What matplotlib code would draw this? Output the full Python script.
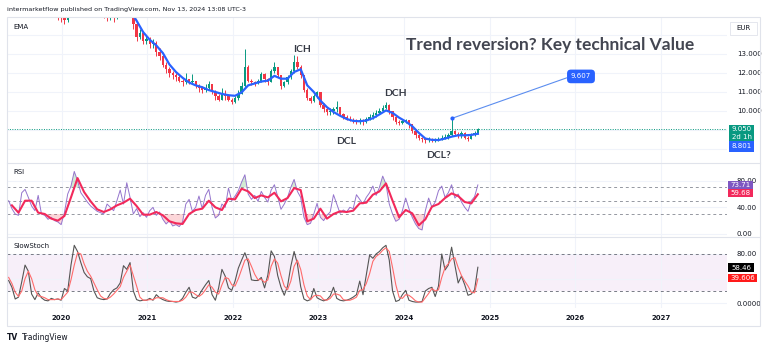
import numpy as np
import pandas as pd
import matplotlib
matplotlib.use("Agg")
import matplotlib.pyplot as plt
import matplotlib.dates as mdates
from matplotlib.lines import Line2D
from matplotlib.patches import Rectangle

# ---- data (2-week bars) ----
first_open = 15.6
closes = [15.5, 15.3, 15.4, 15.8, 16.1, 16.3, 16.0, 15.7, 15.6, 15.7,
          15.5, 15.4, 15.3, 15.2, 15.1, 15.0, 14.9, 14.8, 15.2, 15.9,
          16.6, 17.2, 17.0, 16.7, 16.4, 16.0, 15.7, 15.5, 15.3, 15.1,
          15.0, 15.1, 14.95, 15.2, 15.4, 15.6, 15.8, 15.6, 14.6, 13.9,
          14.1, 13.7, 13.8, 13.5, 13.6, 13.1, 12.9, 12.4, 12.2, 12.0,
          11.9, 11.8, 11.6, 11.5, 11.7, 11.5, 11.6, 11.3, 11.2, 11.1,
          11.2, 11.4, 11.0, 10.8, 10.6, 10.9, 10.8, 10.6, 10.45, 10.7,
          10.9, 11.3, 12.3, 11.6, 11.5, 11.45, 11.6, 11.95, 11.7, 11.5,
          12.1, 12.3, 11.9, 11.3, 11.5, 11.8, 12.1, 12.6, 12.3, 11.9,
          11.1, 10.7, 10.5, 10.8, 11.0, 10.3, 10.1, 9.95, 10.0, 10.1,
          10.2, 9.85, 9.7, 9.6, 9.55, 9.5, 9.45, 9.55, 9.4, 9.6,
          9.7, 9.8, 9.9, 10.0, 10.15, 10.3, 10.0, 9.7, 9.4, 9.35,
          9.45, 9.55, 9.3, 8.95, 8.75, 8.6, 8.5, 8.45, 8.55, 8.45,
          8.5, 8.55, 8.6, 8.65, 8.75, 8.95, 8.8, 8.7, 8.85, 8.6,
          8.55, 8.75, 8.85, 9.05]
highs = [15.8, 15.6, 15.7, 16.0, 16.3, 16.5, 16.4, 16.1, 15.9, 15.9,
         15.8, 15.7, 15.6, 15.5, 15.4, 15.3, 15.2, 15.1, 15.4, 16.1,
         16.9, 17.5, 17.6, 17.1, 16.8, 16.5, 16.1, 15.8, 15.6, 15.4,
         15.3, 15.3, 15.2, 15.4, 15.6, 15.8, 16.0, 16.0, 15.6, 14.7,
         14.3, 14.2, 14.0, 13.9, 13.8, 13.7, 13.3, 13.0, 12.6, 12.3,
         12.1, 12.0, 11.9, 11.7, 12.0, 11.7, 11.95, 11.6, 11.4, 11.3,
         11.4, 11.6, 11.4, 11.1, 10.9, 11.2, 11.1, 10.9, 10.7, 10.8,
         11.1, 11.5, 13.25, 12.4, 11.7, 11.6, 11.7, 12.05, 12.0, 11.75,
         12.2, 12.6, 12.3, 11.9, 11.6, 11.9, 12.2, 12.95, 12.9, 12.4,
         11.9, 11.2, 10.8, 10.9, 11.05, 11.0, 10.4, 10.2, 10.15, 10.2,
         10.5, 10.2, 9.9, 9.8, 9.75, 9.65, 9.6, 9.65, 9.6, 9.7,
         9.85, 9.95, 10.05, 10.15, 10.3, 10.45, 10.35, 10.0, 9.75, 9.5,
         9.55, 9.6, 9.55, 9.3, 9.0, 8.8, 8.65, 8.6, 8.65, 8.6,
         8.6, 8.65, 8.72, 8.8, 8.85, 9.607, 9.0, 8.9, 8.95, 8.9,
         8.7, 8.85, 8.95, 9.1]
lows = [15.3, 15.1, 15.2, 15.3, 15.7, 15.9, 15.8, 15.5, 15.4, 15.4,
        15.3, 15.2, 15.1, 15.1, 15.05, 14.8, 14.7, 14.6, 14.7, 15.0,
        15.8, 16.5, 16.8, 16.4, 16.2, 15.8, 15.5, 15.3, 15.1, 14.9,
        14.75, 14.8, 14.7, 14.85, 15.1, 15.3, 15.5, 15.3, 14.3, 13.7,
        13.8, 13.5, 13.5, 13.3, 13.3, 12.9, 12.7, 12.3, 12.0, 11.8,
        11.7, 11.6, 11.5, 11.3, 11.4, 11.4, 11.4, 11.2, 11.0, 10.95,
        11.0, 11.1, 10.9, 10.6, 10.5, 10.6, 10.6, 10.5, 10.35, 10.4,
        10.6, 10.9, 11.2, 11.5, 11.35, 11.3, 11.4, 11.55, 11.55, 11.35,
        11.5, 12.0, 11.8, 11.15, 11.25, 11.4, 11.7, 12.0, 12.2, 11.75,
        11.0, 10.6, 10.4, 10.45, 10.7, 10.2, 9.95, 9.8, 9.8, 9.85,
        9.95, 9.75, 9.6, 9.5, 9.45, 9.35, 9.3, 9.3, 9.25, 9.35,
        9.5, 9.6, 9.7, 9.85, 9.95, 10.1, 9.85, 9.55, 9.3, 9.25,
        9.3, 9.35, 9.1, 8.85, 8.6, 8.45, 8.35, 8.32, 8.35, 8.35,
        8.38, 8.4, 8.45, 8.5, 8.55, 8.7, 8.7, 8.6, 8.6, 8.5,
        8.4, 8.5, 8.7, 8.8]

# EMA, every second bar from bar 37
ema_vals = [15.3, 14.75, 14.15, 13.75, 13.45, 13.05, 12.45, 12.05, 11.75, 11.5,
            11.35, 11.25, 11.1, 11.0, 10.9, 10.83, 10.8, 10.98, 11.35, 11.45,
            11.55, 11.6, 11.85, 11.7, 11.7, 12.05, 12.2, 11.35, 11.0, 10.55,
            10.2, 9.95, 9.75, 9.58, 9.48, 9.46, 9.5, 9.62, 9.82, 10.03,
            9.9, 9.65, 9.45, 9.2, 8.85, 8.55, 8.48, 8.47, 8.55, 8.65,
            8.72, 8.72, 8.74, 8.801]

rsi = [50, 38, 30, 28, 62, 67, 55, 42, 35, 58,
       30, 28, 22, 25, 20, 18, 14, 32, 60, 72,
       94, 80, 62, 55, 48, 42, 38, 34, 32, 30,
       45, 40, 35, 50, 66, 45, 77, 55, 30, 38,
       26, 32, 25, 35, 40, 28, 33, 22, 15, 20,
       12, 14, 11, 18, 45, 52, 34, 40, 57, 38,
       58, 67, 40, 24, 28, 45, 40, 69, 50, 57,
       65, 78, 89, 60, 52, 58, 49, 64, 55, 48,
       66, 74, 56, 37, 45, 55, 70, 82, 64, 55,
       25, 14, 16, 30, 46, 25, 20, 28, 33, 59,
       45, 31, 36, 33, 40, 38, 59, 52, 45, 55,
       62, 72, 58, 70, 87, 75, 45, 30, 19, 22,
       35, 54, 38, 25, 15, 8, 6, 35, 54, 40,
       48, 65, 72, 55, 62, 74, 54, 60, 48, 40,
       34, 50, 56, 73.71]
# RSI moving average, every second bar from bar 1
rsi_ma = [43, 32, 50, 50, 32, 30, 23, 20, 27, 55,
          84, 63, 49, 37, 33, 37, 43, 47, 53, 42,
          29, 29, 33, 28, 19, 16, 15, 30, 36, 38,
          50, 40, 36, 53, 52, 68, 64, 54, 58, 55,
          62, 49, 54, 69, 66, 19, 23, 38, 23, 30,
          34, 33, 35, 46, 47, 59, 64, 76, 50, 25,
          36, 31, 13, 22, 41, 45, 54, 61, 57, 48,
          46, 59.68]

stoch_k = [37, 26, 7, 10, 35, 62, 52, 15, 6, 17,
           9, 5, 4, 8, 6, 7, 5, 24, 20, 62,
           94, 84, 66, 50, 43, 40, 20, 9, 7, 6,
           7, 16, 22, 25, 33, 61, 55, 66, 20, 6,
           4, 5, 5, 8, 5, 14, 9, 6, 4, 3,
           3, 2, 3, 8, 18, 26, 10, 8, 13, 22,
           30, 37, 14, 5, 25, 55, 44, 25, 21, 36,
           57, 70, 82, 67, 38, 37, 37, 42, 25, 46,
           85, 76, 45, 26, 13, 28, 60, 84, 64, 27,
           7, 4, 6, 24, 9, 6, 4, 6, 12, 26,
           8, 5, 4, 5, 7, 10, 14, 36, 14, 46,
           78, 73, 80, 84, 90, 94, 70, 20, 3, 5,
           14, 21, 5, 3, 2, 2, 3, 20, 24, 26,
           11, 28, 80, 54, 62, 91, 62, 33, 44, 30,
           13, 15, 22, 58.46]
stoch_d = [42, 32, 18, 11, 20, 40, 52, 40, 22, 12,
           11, 9, 6, 6, 6, 7, 6, 12, 18, 38,
           62, 82, 80, 64, 52, 44, 33, 22, 12, 8,
           7, 10, 15, 21, 27, 42, 52, 62, 45, 28,
           10, 5, 5, 6, 6, 9, 9, 9, 6, 4,
           3, 3, 3, 5, 10, 18, 18, 14, 11, 15,
           22, 30, 26, 18, 15, 30, 42, 40, 30, 28,
           40, 55, 70, 72, 60, 47, 38, 39, 34, 38,
           60, 72, 65, 45, 28, 22, 36, 60, 70, 55,
           30, 12, 6, 12, 13, 12, 6, 5, 8, 15,
           15, 13, 6, 5, 5, 7, 10, 21, 22, 32,
           48, 68, 76, 80, 86, 90, 84, 58, 30, 10,
           8, 14, 13, 9, 4, 2, 2, 9, 16, 24,
           20, 22, 42, 58, 64, 72, 74, 58, 45, 36,
           28, 18, 17, 39.606]

year_labels = ["2020", "2021", "2022", "2023", "2024", "2025", "2026", "2027"]
price_ticks = [8, 9, 10, 11, 12, 13, 14]
price_labels = ["", "", "10.000", "11.000", "12.000", "13.000", ""]

# ---- layout ----
W, H = 768, 349
UP, DOWN = "#089981", "#f23645"
GRID = "#f0f3fa"
TXT = "#131722"

dates = pd.date_range("2019-05-20", periods=len(closes), freq="14D")
x = mdates.date2num(dates)
o = np.array([first_open] + closes[:-1])
c = np.array(closes)
hi = np.array(highs)
lo = np.array(lows)
years = mdates.date2num(pd.to_datetime([y + "-01-01" for y in year_labels]))
xmin = mdates.date2num(pd.Timestamp("2019-05-13"))
xmax = mdates.date2num(pd.Timestamp("2027-10-10"))

fig = plt.figure(figsize=(W / 100, H / 100), dpi=100)
fig.patch.set_facecolor("white")


def box(x0, y0, x1, y1):
    return [x0 / W, 1 - y1 / H, (x1 - x0) / W, (y1 - y0) / H]


def tag(x0, y0, x1, y1, lines, fc, tc="white", ec="none"):
    # price-scale label box, in pixel coords from the top-left corner
    fig.add_artist(Rectangle((x0 / W, 1 - y1 / H), (x1 - x0) / W, (y1 - y0) / H,
                             transform=fig.transFigure, fc=fc, ec=ec, lw=0.6, zorder=5))
    step = (y1 - y0) / len(lines)
    for k, s in enumerate(lines):
        fig.text((x0 + x1) / 2 / W, 1 - (y0 + step * (k + 0.5)) / H, s, color=tc,
                 fontsize=5, ha="center", va="center", zorder=6)


ax_p = fig.add_axes(box(7, 17, 727, 163))
ax_r = fig.add_axes(box(7, 163, 727, 237))
ax_s = fig.add_axes(box(7, 237, 727, 308))

for ax in (ax_p, ax_r, ax_s):
    ax.set_xlim(xmin, xmax)
    ax.set_xticks(years)
    ax.grid(True, color=GRID, lw=0.8)
    ax.set_axisbelow(True)
    for sp in ax.spines.values():
        sp.set_visible(False)
    ax.tick_params(axis="y", left=False, right=False, labelleft=False,
                   labelright=True, pad=3.5, labelsize=5, labelcolor=TXT)
    ax.tick_params(axis="x", bottom=False, labelbottom=False)

# ---- price pane ----
ax_p.set_ylim(7.263, 14.947)
ax_p.set_yticks(price_ticks)
ax_p.set_yticklabels(price_labels)
cols = np.where(c >= o, UP, DOWN)
ax_p.vlines(x, lo, hi, colors=cols, lw=0.7, zorder=2)
ax_p.bar(x, np.maximum(np.abs(c - o), 0.03), bottom=np.minimum(o, c),
         width=10, color=cols, zorder=2)
ax_p.plot(x[37::2], ema_vals, color="#2962ff", lw=1.6, zorder=3)
ax_p.axhline(closes[-1], color=UP, lw=0.7, ls=(0, (1, 1.5)), zorder=1)

# trend line from the last swing high to its label
i_peak = int(np.argmax(hi[125:])) + 125
lx = mdates.date2num(pd.Timestamp("2025-11-24"))
ax_p.plot([x[i_peak], lx], [hi[i_peak], 11.74], color="#5b8def", lw=0.8, zorder=3)
ax_p.plot(x[i_peak], hi[i_peak], "o", color="#2962ff", ms=2, zorder=4)
ax_p.text(mdates.date2num(pd.Timestamp("2026-01-25")), 11.82, f"{hi[i_peak]:.3f}",
          color="white", fontsize=5, ha="center", va="center", zorder=5,
          bbox=dict(boxstyle="round,pad=0.55", fc="#2962ff", ec="none"))

note = dict(color="#363a45", fontsize=7.5, ha="center", va="center",
            fontweight="bold", family="Lato")
ax_p.text(mdates.date2num(pd.Timestamp("2022-10-22")), 13.26, "ICH", **note)
ax_p.text(mdates.date2num(pd.Timestamp("2023-11-24")), 10.9, "DCH", **note)
ax_p.text(mdates.date2num(pd.Timestamp("2023-05-01")), 8.37, "DCL", **note)
ax_p.text(mdates.date2num(pd.Timestamp("2024-05-26")), 7.68, "DCL?", **note)
ax_p.text(mdates.date2num(pd.Timestamp("2024-01-10")), 13.47,
          "Trend reversion? Key technical Value", color="#434651",
          fontsize=12.5, ha="left", va="center", fontweight="bold", family="Lato")

# ---- RSI pane ----
ax_r.set_ylim(-4.6, 106.7)
ax_r.set_yticks([0, 40, 80])
ax_r.set_yticklabels(["0.00", "40.00", "80.00"])
for lvl in (30, 50, 70):
    ax_r.axhline(lvl, color="#9598a1", lw=0.7, ls=(0, (3, 3)), zorder=1)
r = np.array(rsi, dtype=float)
ax_r.fill_between(x, r, 70, where=r > 70, color="#4caf50", alpha=0.25, lw=0, interpolate=True)
ax_r.fill_between(x, r, 30, where=r < 30, color="#f23645", alpha=0.2, lw=0, interpolate=True)
ax_r.plot(x, rsi, color="#9575cd", lw=0.7, zorder=3)
ax_r.plot(x[1::2], rsi_ma, color="#f2295b", lw=1.5, zorder=4)

# ---- SlowStoch pane ----
ax_s.set_ylim(-7.6, 107.5)
ax_s.set_yticks([0, 40, 80])
ax_s.set_yticklabels(["0.0000", "", "80.00"])
ax_s.axhspan(20, 80, color="#f3e5f5", alpha=0.6, lw=0, zorder=0)
for lvl in (20, 80):
    ax_s.axhline(lvl, color="#787b86", lw=0.7, ls=(0, (3, 3)), zorder=1)
ax_s.plot(x, stoch_k, color="#555555", lw=0.8, zorder=3)
ax_s.plot(x, stoch_d, color="#ff6b6b", lw=0.8, zorder=4)
ax_s.tick_params(axis="x", labelbottom=True, pad=1.5, labelsize=5, labelcolor=TXT)
ax_s.set_xticklabels(year_labels, fontweight="bold")

# ---- price-scale tags ----
tag(730, 22, 757, 35, ["EUR"], "white", tc=TXT, ec="#e0e3eb")
tag(729, 125, 754, 141, [f"{closes[-1]:.3f}", "2d 1h"], UP)
tag(729, 141, 754, 152, [f"{ema_vals[-1]:.3f}"], "#2962ff")
tag(728, 180.5, 753, 188.5, [f"{rsi[-1]:.2f}"], "#7e57c2")
tag(728, 188.5, 753, 197, [f"{rsi_ma[-1]:.2f}"], "#f2295b")
tag(728, 263, 754, 272, [f"{stoch_k[-1]:.2f}"], "black")
tag(728, 273.5, 757, 282, [f"{stoch_d[-1]:.3f}"], "#ff1a1a")

# ---- frame, headers ----
frame = "#e0e3eb"
fig.add_artist(Rectangle((7 / W, 1 - 326 / H), 753 / W, 309 / H, transform=fig.transFigure,
                         fill=False, ec=frame, lw=0.8))
for yy in (163, 237):
    fig.add_artist(Line2D([7 / W, 760 / W], [1 - yy / H] * 2, color=frame, lw=0.8))

fig.text(7 / W, 1 - 10 / H, "intermarketflow published on TradingView.com, Nov 13, 2024 13:08 UTC-3",
         fontsize=4.6, color=TXT, va="center")
fig.text(13 / W, 1 - 27 / H, "EMA", fontsize=5, color=TXT, va="center")
fig.text(13 / W, 1 - 172.5 / H, "RSI", fontsize=5, color=TXT, va="center")
fig.text(13 / W, 1 - 246 / H, "SlowStoch", fontsize=5, color=TXT, va="center")
fig.text(7 / W, 1 - 337 / H, "TV", fontsize=5.5, color=TXT, va="center", fontweight="bold")
fig.text(22 / W, 1 - 337 / H, "TradingView", fontsize=5.5, color=TXT, va="center")

fig.savefig("out.png", dpi=100)
